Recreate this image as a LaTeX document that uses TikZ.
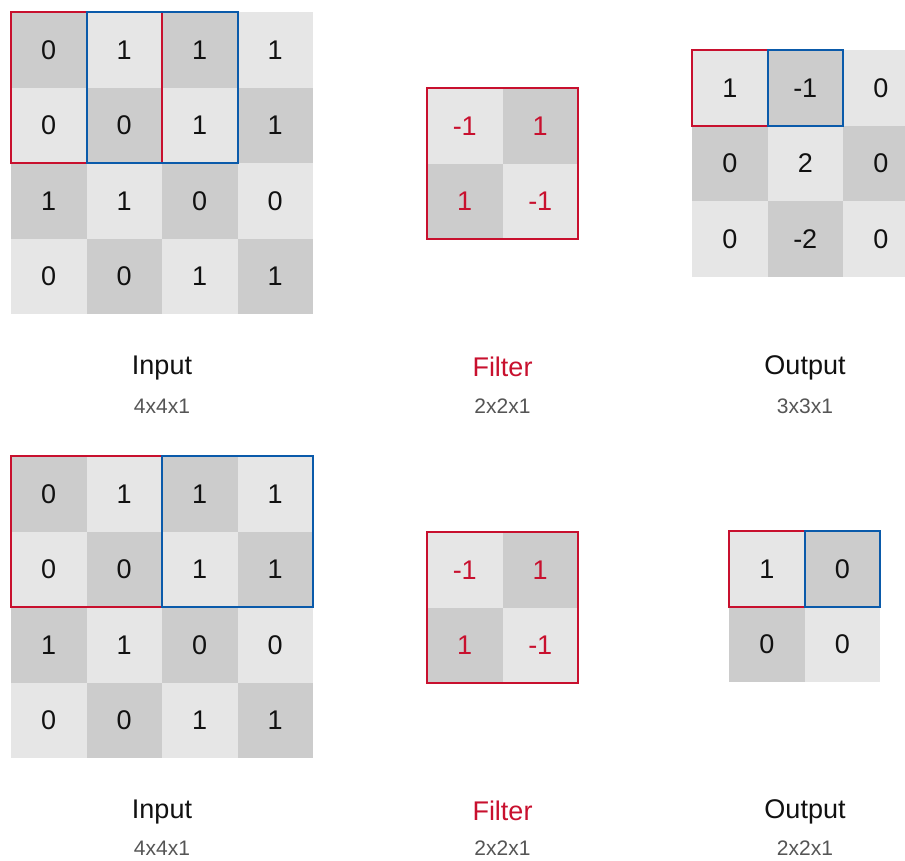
\documentclass[tikz,border=0pt]{standalone}
\usepackage{fontspec}
\setmainfont{Liberation Sans}

\definecolor{cellLight}{HTML}{E6E6E6}
\definecolor{cellDark}{HTML}{CCCCCC}
\definecolor{winRed}{HTML}{C8102E}
\definecolor{winBlue}{HTML}{0A5AAA}
\definecolor{ink}{HTML}{111111}
\definecolor{subInk}{HTML}{555555}

\tikzset{
  cellbase/.style={minimum width=75.5pt, minimum height=75.5pt, inner sep=0pt,
    outer sep=0pt, anchor=north west, text=ink,
    font=\fontsize{27}{30}\selectfont},
  litecell/.style={cellbase, fill=cellLight},
  darkcell/.style={cellbase, fill=cellDark},
  redwin/.style={draw=winRed, line width=2pt},
  bluewin/.style={draw=winBlue, line width=2pt},
  title/.style={anchor=base, inner sep=0pt, text=ink, font=\fontsize{27}{30}\selectfont},
  subtitle/.style={anchor=base, inner sep=0pt, text=subInk, font=\fontsize{21}{24}\selectfont},
}

% #1 name prefix, #2 left, #3 top, #4 columns, #5 parity of the dark cells,
% #6 extra cell options, #7 values row by row
\newcommand\cellgrid[7]{%
  \foreach \v [count=\k from 0] in {#7} {
    \pgfmathtruncatemacro\gr{\k/#4}
    \pgfmathtruncatemacro\gc{mod(\k,#4)}
    \pgfmathtruncatemacro\gs{mod(\gr+\gc+#5,2)}
    \ifnum\gs=0 \def\shade{darkcell}\else\def\shade{litecell}\fi
    \node[\shade,#6] (#1-\gr-\gc) at ({#2+75.5*\gc},{#3+75.5*\gr}) {\v};
  }%
}

\begin{document}
\begin{tikzpicture}[x=1pt,y=-1pt]
  \useasboundingbox (0,0) rectangle (905,860);
  \clip (0,0) rectangle (905,860);

  % ---- stride 1 ----
  \cellgrid{ia}{11}{12}{4}{0}{}{0,1,1,1,0,0,1,1,1,1,0,0,0,0,1,1}
  \cellgrid{fa}{427}{88}{2}{1}{text=winRed}{-1,1,1,-1}
  \cellgrid{oa}{692}{50}{3}{1}{}{1,-1,0,0,2,0,0,-2,0}

  \draw[redwin]  (ia-0-0.north west) rectangle (ia-1-1.south east);
  \draw[bluewin] (ia-0-1.north west) rectangle (ia-1-2.south east);
  \draw[redwin]  (fa-0-0.north west) rectangle (fa-1-1.south east);
  \draw[redwin]  (oa-0-0.north west) rectangle (oa-0-0.south east);
  \draw[bluewin] (oa-0-1.north west) rectangle (oa-0-1.south east);

  \node[title] (ia-lab) at (162,374) {Input};
  \node[subtitle] (ia-dim) at (162,413) {4x4x1};
  \node[title, text=winRed] (fa-lab) at (502.5,376) {Filter};
  \node[subtitle] (fa-dim) at (502.5,413) {2x2x1};
  \node[title] (oa-lab) at (805,374) {Output};
  \node[subtitle] (oa-dim) at (805,413) {3x3x1};

  % ---- stride 2 ----
  \cellgrid{ib}{11}{456}{4}{0}{}{0,1,1,1,0,0,1,1,1,1,0,0,0,0,1,1}
  \cellgrid{fb}{427}{532}{2}{1}{text=winRed}{-1,1,1,-1}
  \cellgrid{ob}{729}{531}{2}{1}{}{1,0,0,0}

  \draw[redwin]  (ib-0-0.north west) rectangle (ib-1-1.south east);
  \draw[bluewin] (ib-0-2.north west) rectangle (ib-1-3.south east);
  \draw[redwin]  (fb-0-0.north west) rectangle (fb-1-1.south east);
  \draw[redwin]  (ob-0-0.north west) rectangle (ob-0-0.south east);
  \draw[bluewin] (ob-0-1.north west) rectangle (ob-0-1.south east);

  \node[title] (ib-lab) at (162,818) {Input};
  \node[subtitle] (ib-dim) at (162,855) {4x4x1};
  \node[title, text=winRed] (fb-lab) at (502.5,820) {Filter};
  \node[subtitle] (fb-dim) at (502.5,855) {2x2x1};
  \node[title] (ob-lab) at (805,818) {Output};
  \node[subtitle] (ob-dim) at (805,855) {2x2x1};
\end{tikzpicture}
\end{document}
